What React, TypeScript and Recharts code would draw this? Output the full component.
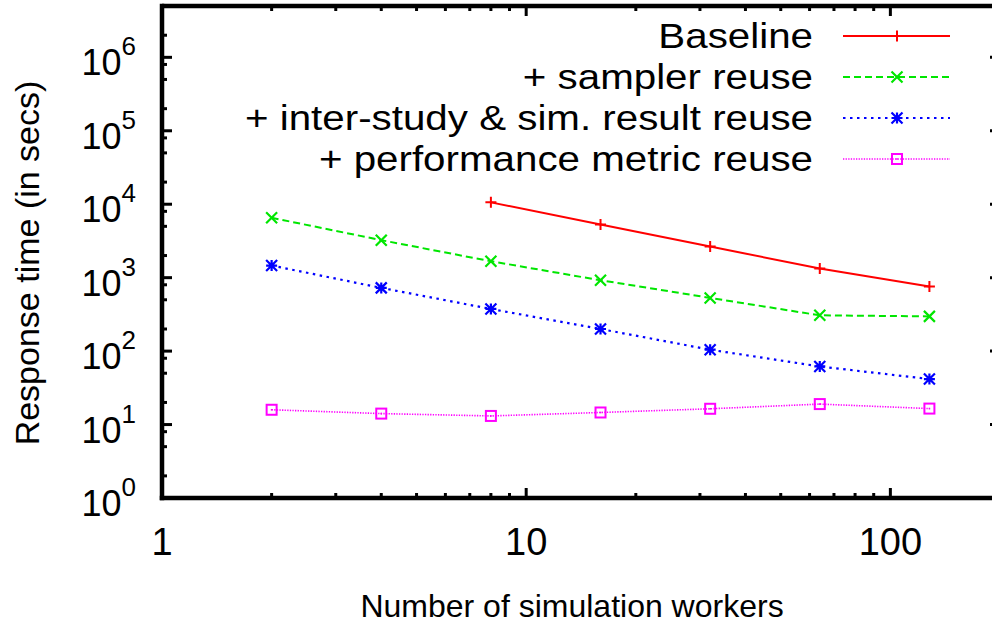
import { LineChart, Line, XAxis, YAxis, Legend, ReferenceLine } from "recharts";

// number of simulation workers
const workers = [2, 4, 8, 16, 32, 64, 128];
// response time in secs, per configuration
const baseline = [null, null, 10600, 5300, 2660, 1330, 756];
const samplerReuse = [6540, 3240, 1675, 922, 530, 307, 297];
const interStudyReuse = [1462, 726, 375, 200, 104.5, 61.8, 41.6];
const metricReuse = [15.9, 14.1, 13.1, 14.6, 16.4, 19.0, 16.5];

const seriesNames = [
  "Baseline",
  "+ sampler reuse",
  "+ inter-study & sim. result reuse",
  "+ performance metric reuse",
];

const xTicks = [1, 2, 3, 4, 5, 6, 7, 8, 9, 10, 20, 30, 40, 50, 60, 70, 80, 90, 100];
const xLabels = [1, 10, 100];
const yTicks = [
  1, 2, 5, 8, 10, 20, 50, 80, 100, 200, 500, 800, 1e3, 2e3, 5e3, 8e3, 1e4, 2e4,
  5e4, 8e4, 1e5, 2e5, 5e5, 8e5, 1e6, 2e6,
];
const yExponents = [0, 1, 2, 3, 4, 5, 6];

const FONT = '"Liberation Sans", Arial, Helvetica, sans-serif';
const CHART_W = 1010;
const CHART_H = 625;
const PLOT_TOP = 6;
const PLOT_RIGHT = 1000;

const data = workers.map((w, i) => ({
  x: w,
  baseline: baseline[i],
  sampler: samplerReuse[i],
  interStudy: interStudyReuse[i],
  metric: metricReuse[i],
}));

const series = [
  { key: "baseline", color: "#ff0000", dash: undefined, width: 2, shape: "plus" },
  { key: "sampler", color: "#00e600", dash: "7 4", width: 2, shape: "cross" },
  { key: "interStudy", color: "#0000ff", dash: "2.5 4.5", width: 2.2, shape: "star" },
  { key: "metric", color: "#ff00ff", dash: "1.3 1.3", width: 1.6, shape: "square" },
];

const Marker = ({ cx, cy, shape, color }) => {
  const s = 5.5;
  const plus = `M${cx - s},${cy}H${cx + s}M${cx},${cy - s}V${cy + s}`;
  const cross = `M${cx - s},${cy - s}L${cx + s},${cy + s}M${cx - s},${cy + s}L${cx + s},${cy - s}`;
  if (shape === "plus")
    return <path d={plus} stroke={color} strokeWidth={2} fill="none" />;
  if (shape === "cross")
    return <path d={cross} stroke={color} strokeWidth={2.2} fill="none" />;
  if (shape === "star")
    return <path d={plus + cross} stroke={color} strokeWidth={2.2} fill="none" />;
  return (
    <g>
      <rect x={cx - 5} y={cy - 5} width={10} height={10} stroke={color} strokeWidth={2} fill="none" />
      <rect x={cx - 0.8} y={cy - 0.8} width={1.6} height={1.6} fill={color} />
    </g>
  );
};

const YTick = ({ x, y, payload }) => {
  const v = payload.value;
  const exp = Math.round(Math.log10(v));
  const major = Math.abs(Math.log10(v) - exp) < 1e-6 && yExponents.includes(exp);
  const len = major ? 10 : 5;
  return (
    <g>
      <line x1={x} x2={x + len} y1={y} y2={y} stroke="#000" strokeWidth={3} />
      <line x1={PLOT_RIGHT - len} x2={PLOT_RIGHT} y1={y} y2={y} stroke="#000" strokeWidth={3} />
      {major && (
        <text x={x - 26} y={y + 18} textAnchor="end" fontFamily={FONT} fill="#000">
          <tspan fontSize={36}>10</tspan>
          <tspan fontSize={26} dy={-20}>{exp}</tspan>
        </text>
      )}
    </g>
  );
};

const XTick = ({ x, y, payload }) => {
  const v = payload.value;
  const major = xLabels.includes(v);
  const len = major ? 10 : 5;
  return (
    <g>
      <line x1={x} x2={x} y1={y} y2={y - len} stroke="#000" strokeWidth={3} />
      <line x1={x} x2={x} y1={PLOT_TOP} y2={PLOT_TOP + len} stroke="#000" strokeWidth={3} />
      {major && (
        <text x={x} y={y + 57} textAnchor="middle" fontSize={38} fontFamily={FONT} fill="#000">
          {v}
        </text>
      )}
    </g>
  );
};

// gnuplot's legend font is a bit wider than Liberation Sans, so stretch it
const LegendBox = () => (
  <svg width={CHART_W} height={200}>
    {series.map((s, i) => {
      const cy = 36 + i * 41;
      return (
        <g key={s.key}>
          <text
            x={0}
            y={0}
            transform={`translate(813, ${cy + 12}) scale(1.12, 1)`}
            textAnchor="end"
            fontSize={36}
            fontFamily={FONT}
            fill="#000"
          >
            {seriesNames[i]}
          </text>
          <line
            x1={843}
            x2={950}
            y1={cy}
            y2={cy}
            stroke={s.color}
            strokeWidth={s.width}
            strokeDasharray={s.dash}
          />
          <Marker cx={897} cy={cy} shape={s.shape} color={s.color} />
        </g>
      );
    })}
  </svg>
);

const App = () => {
  return (
    <div style={{ position: "absolute", left: 0, top: 0, width: 992, height: 625, overflow: "hidden", background: "#fff" }}>
      <LineChart
        width={CHART_W}
        height={CHART_H}
        data={data}
        margin={{ top: PLOT_TOP, right: CHART_W - PLOT_RIGHT, left: 0, bottom: 0 }}
      >
        <XAxis
          dataKey="x"
          type="number"
          scale="log"
          domain={[1, 200]}
          ticks={xTicks}
          interval={0}
          allowDataOverflow
          height={CHART_H - 498}
          tickSize={0}
          tickMargin={0}
          tickLine={false}
          axisLine={{ stroke: "#000", strokeWidth: 4.5, strokeLinecap: "square" }}
          tick={<XTick />}
          label={{
            content: ({ viewBox }) => (
              <text
                x={viewBox.x + viewBox.width / 2 - 9}
                y={617}
                textAnchor="middle"
                fontSize={32}
                fontFamily={FONT}
                fill="#000"
              >
                Number of simulation workers
              </text>
            ),
          }}
        />
        <YAxis
          type="number"
          scale="log"
          domain={[1, 5e6]}
          ticks={yTicks}
          interval={0}
          allowDataOverflow
          width={162}
          tickSize={0}
          tickMargin={0}
          tickLine={false}
          axisLine={{ stroke: "#000", strokeWidth: 4.5, strokeLinecap: "square" }}
          tick={<YTick />}
          label={{
            content: () => (
              <text
                x={39}
                y={263}
                transform="rotate(-90, 39, 263)"
                textAnchor="middle"
                fontSize={34}
                fontFamily={FONT}
                fill="#000"
              >
                Response time (in secs)
              </text>
            ),
          }}
        />
        <ReferenceLine y={5e6} stroke="#000" strokeWidth={4.5} />
        <ReferenceLine x={200} stroke="#000" strokeWidth={4.5} />
        <Legend
          layout="vertical"
          align="center"
          verticalAlign="middle"
          wrapperStyle={{ position: "absolute", left: 0, top: 0, width: CHART_W, height: 200, pointerEvents: "none" }}
          content={() => <LegendBox />}
        />
        {series.map((s, i) => (
          <Line
            key={s.key}
            dataKey={s.key}
            name={seriesNames[i]}
            type="linear"
            stroke={s.color}
            strokeWidth={s.width}
            strokeDasharray={s.dash}
            isAnimationActive={false}
            dot={(p) =>
              p.cy == null || p.value == null ? (
                <g key={`${s.key}-${p.index}`} />
              ) : (
                <Marker key={`${s.key}-${p.index}`} cx={p.cx} cy={p.cy} shape={s.shape} color={s.color} />
              )
            }
            activeDot={false}
          />
        ))}
      </LineChart>
    </div>
  );
};

export default App;
